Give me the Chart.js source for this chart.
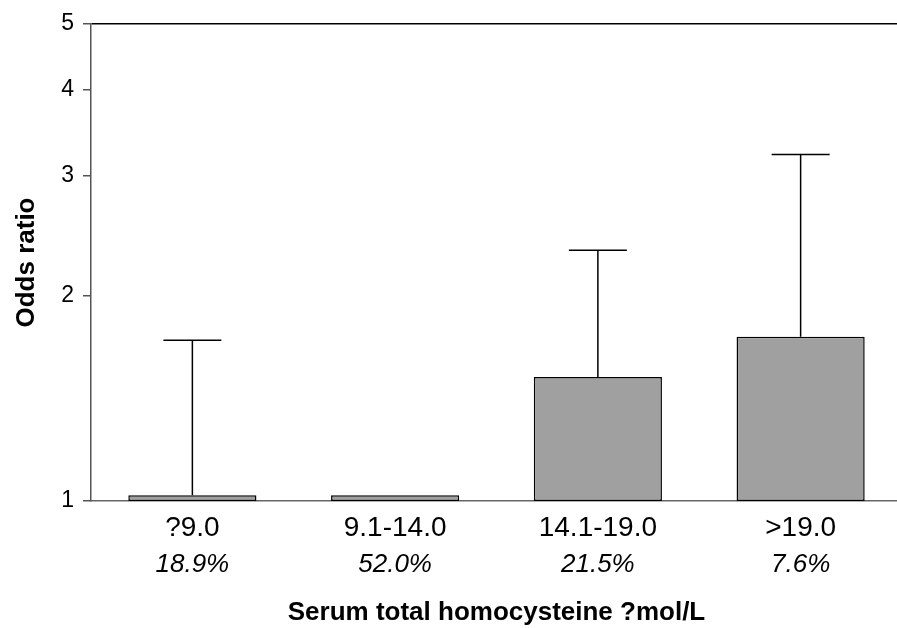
<!DOCTYPE html>
<html>
<head>
<meta charset="utf-8">
<title>Odds ratio by serum total homocysteine</title>
<script src="https://cdn.jsdelivr.net/npm/chart.js@4/dist/chart.umd.min.js"></script>
<style>
    html, body { margin: 0; padding: 0; background: #fff; overflow: hidden; }
    #wrap { width: 902px; height: 628px; position: relative; }
</style>
</head>
<body>
<div id="wrap"><canvas id="orChart"></canvas></div>
<script>
const groups = ['?9.0', '9.1-14.0', '14.1-19.0', '>19.0'];
const shares = ['18.9%', '52.0%', '21.5%', '7.6%'];
const oddsRatios = [1.02, 1.02, 1.52, 1.74];
const upperCI = [1.72, null, 2.33, 3.22];
const yTicks = [1, 2, 3, 4, 5];

const FONT = '"Liberation Sans", Arial, sans-serif';

// upper confidence limit drawn as a whisker with a cap above each bar
const whiskers = {
    id: 'whiskers',
    afterDatasetsDraw(chart) {
        const ctx = chart.ctx;
        const meta = chart.getDatasetMeta(0);
        const y = chart.scales.y;
        ctx.save();
        ctx.strokeStyle = '#000';
        ctx.lineWidth = 1.5;
        meta.data.forEach((bar, i) => {
            if (upperCI[i] == null) return;
            const top = y.getPixelForValue(upperCI[i]);
            ctx.beginPath();
            ctx.moveTo(bar.x, bar.y);
            ctx.lineTo(bar.x, top);
            ctx.moveTo(bar.x - 29, top);
            ctx.lineTo(bar.x + 29, top);
            ctx.stroke();
        });
        ctx.restore();
    }
};

const ctx = document.getElementById('orChart').getContext('2d');
new Chart(ctx, {
    type: 'bar',
    data: {
        labels: groups,
        datasets: [{
            data: oddsRatios,
            backgroundColor: '#a0a0a0',
            borderColor: '#000',
            borderWidth: 1.5,
            borderSkipped: false,
            barPercentage: 0.632,
            categoryPercentage: 1
        }]
    },
    plugins: [whiskers],
    options: {
        responsive: true,
        maintainAspectRatio: false,
        animation: false,
        layout: { padding: { top: 24, left: 0, right: 0, bottom: 0 } },
        plugins: {
            legend: { display: false },
            tooltip: { enabled: false }
        },
        scales: {
            x: {
                type: 'category',
                offset: true,
                afterFit: (scale) => {
                    scale.height = 44;
                },
                grid: { display: false, drawTicks: false },
                border: { display: true, color: '#666', width: 1.5 },
                ticks: {
                    color: '#000',
                    padding: 10,
                    font: { family: FONT, size: 28, lineHeight: 1.2 }
                }
            },
            x2: {
                type: 'category',
                position: 'bottom',
                labels: shares,
                offset: true,
                afterFit: (scale) => {
                    scale.height = 83;
                },
                grid: { display: false, drawTicks: false },
                border: { display: false },
                ticks: {
                    color: '#000',
                    padding: 4.6,
                    font: { family: FONT, size: 26, style: 'italic', lineHeight: 1.2 }
                },
                title: {
                    display: true,
                    text: 'Serum total homocysteine ?mol/L',
                    color: '#000',
                    padding: { top: 18.3, bottom: 0.7 },
                    font: { family: FONT, size: 26, weight: 'bold', lineHeight: 1.1 }
                }
            },
            y: {
                type: 'logarithmic',
                min: 1,
                max: 5,
                afterBuildTicks: (scale) => {
                    scale.ticks = yTicks.map(v => ({ value: v }));
                },
                afterFit: (scale) => {
                    scale.width = 91;
                },
                grid: {
                    drawOnChartArea: true,
                    color: (c) => (c.tick && c.tick.value === 5 ? '#000' : 'rgba(0,0,0,0)'),
                    lineWidth: 1.5,
                    tickColor: '#555',
                    tickLength: 8
                },
                border: { display: true, color: '#555', width: 1.5 },
                ticks: {
                    color: '#000',
                    padding: 9,
                    font: { family: FONT, size: 23 },
                    callback: (v) => String(v)
                },
                title: {
                    display: true,
                    text: 'Odds ratio',
                    color: '#000',
                    padding: { top: 11.5, bottom: 0 },
                    font: { family: FONT, size: 26, weight: 'bold', lineHeight: 1.2 }
                }
            }
        }
    }
});
</script>
</body>
</html>
